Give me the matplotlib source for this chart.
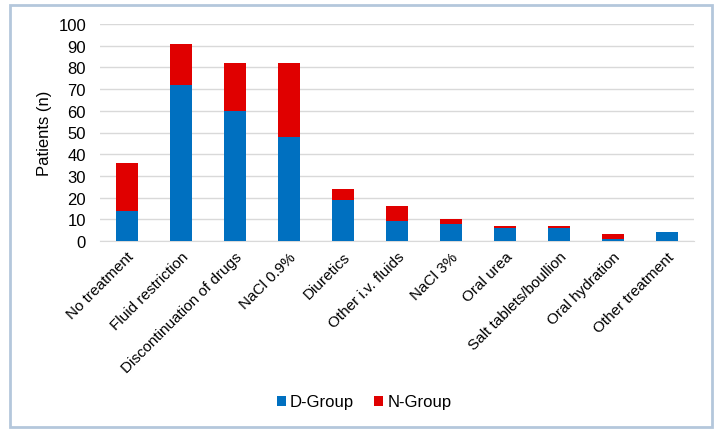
import numpy as np
import matplotlib
matplotlib.use("Agg")
import matplotlib.pyplot as plt
from matplotlib.patches import Rectangle

plt.rcParams['font.family'] = ['Liberation Sans', 'DejaVu Sans']

categories = ["No treatment", "Fluid restriction", "Discontinuation of drugs",
              "NaCl 0.9%", "Diuretics", "Other i.v. fluids", "NaCl 3%",
              "Oral urea", "Salt tablets/boullion", "Oral hydration",
              "Other treatment"]
d_group = [14, 72, 60, 48, 19, 9, 8, 6, 6, 1, 4]
n_group = [22, 19, 22, 34, 5, 7, 2, 1, 1, 2, 0]

blue = "#0070c0"
red = "#e00000"

fig = plt.figure(figsize=(7.18, 4.35), dpi=100)
ax = fig.add_axes([100 / 718, 1 - 242 / 435, 594 / 718, 217 / 435])

x = np.arange(len(categories))
ax.bar(x, d_group, width=0.41, color=blue, label="D-Group", zorder=3)
ax.bar(x, n_group, width=0.41, bottom=d_group, color=red, label="N-Group", zorder=3)

ax.set_xlim(-0.5, len(categories) - 0.5)
ax.set_ylim(0, 100)
ax.set_yticks(range(0, 101, 10))
ax.yaxis.grid(True, color="#d9d9d9", linewidth=1, zorder=0)
for s in ["top", "right", "left"]:
    ax.spines[s].set_visible(False)
ax.spines["bottom"].set_color("#d9d9d9")
ax.tick_params(axis="both", length=0, colors="black")
ax.tick_params(axis="y", pad=10, labelsize=12)
ax.set_xticks(x)
ax.set_xticklabels(categories, rotation=45, ha="right", rotation_mode="anchor",
                   fontsize=11)
ax.tick_params(axis="x", pad=6)
ax.set_ylabel("Patients (n)", fontsize=12)
ax.yaxis.set_label_coords(45 / 718, 1 - 133 / 435, transform=fig.transFigure)
ax.yaxis.label.set_va("center")

ax.legend(loc="center", bbox_to_anchor=(364 / 718, 1 - 403 / 435),
          bbox_transform=fig.transFigure, ncol=2, frameon=False, fontsize=12,
          handlelength=0.55, handleheight=0.55, handletextpad=0.25, columnspacing=1.2)

fig.patches.append(Rectangle((10 / 718, 1 - 428 / 435), 702 / 718, 422 / 435,
                             transform=fig.transFigure, fill=False,
                             edgecolor="#b4c7dc", linewidth=2))

fig.savefig("out.png", dpi=100)
